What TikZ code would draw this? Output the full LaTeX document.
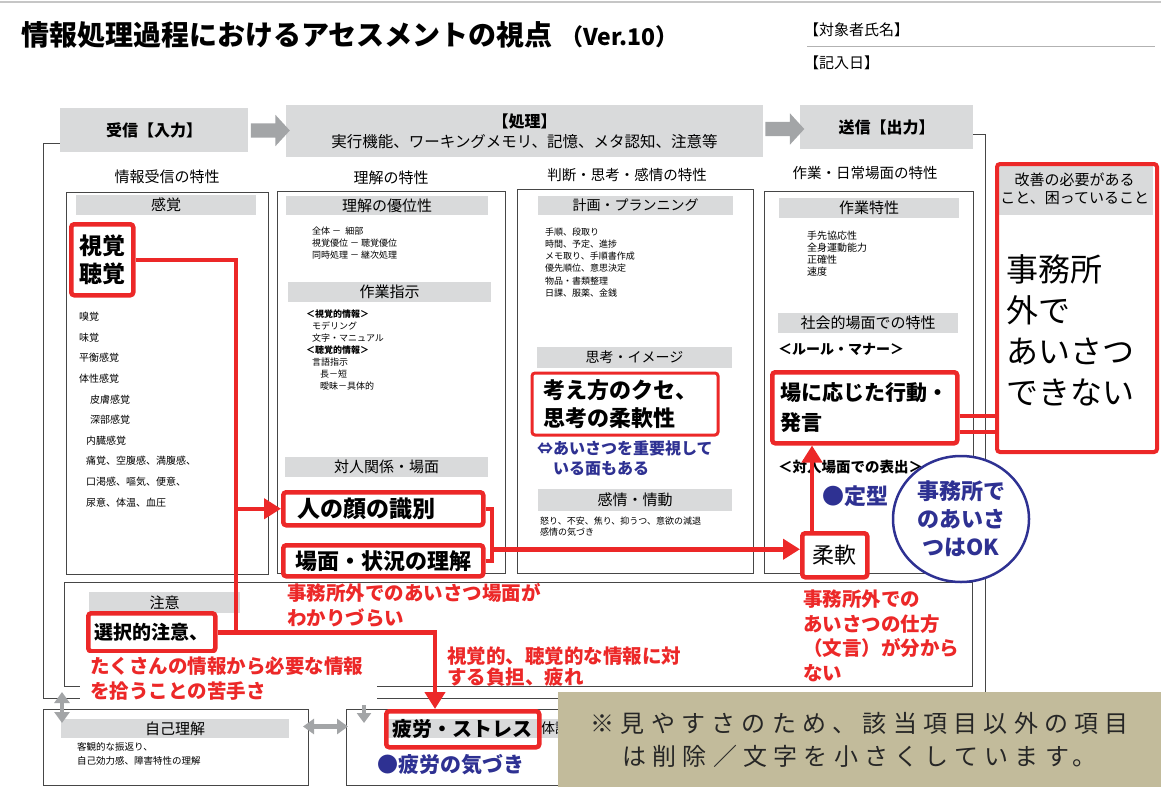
\documentclass[tikz,border=0pt]{standalone}
\usepackage{fontspec}
\setmainfont{Noto Sans CJK JP}
\usetikzlibrary{positioning, calc, arrows.meta, shapes.geometric, shapes.arrows}

\definecolor{alertred}{RGB}{236,40,40}
\definecolor{navyink}{RGB}{46,49,146}
\definecolor{bargray}{RGB}{217,218,219}
\definecolor{arrowgray}{RGB}{163,165,167}
\definecolor{framegray}{RGB}{70,70,70}
\definecolor{memobeige}{RGB}{194,187,155}

\tikzset{
  frameline/.style={draw=framegray, line width=1pt},
  panel/.style={draw=framegray, line width=1pt, anchor=north west, inner sep=0pt},
  headbox/.style={
    fill=bargray, align=center, inner sep=0pt,
    font=\bfseries\fontsize{16}{20}\selectfont
  },
  flow/.style={
    single arrow, fill=arrowgray, inner xsep=0pt, inner ysep=7pt,
    minimum height=39pt, single arrow head extend=8.5pt, single arrow tip angle=95
  },
  bar/.style={fill=bargray, inner sep=0pt, minimum height=20pt, font=\fontsize{15}{18}\selectfont},
  small/.style={anchor=north west, align=left, inner sep=0pt, font=\fontsize{9}{12}\selectfont},
  redbox/.style={
    draw=alertred, line width=4.5pt, rounded corners=3pt, fill=white,
    anchor=north west, align=left, inner ysep=0pt,
    font=\bfseries\fontsize{23}{28}\selectfont
  },
  redline/.style={draw=alertred, line width=4.5pt},
  headtip/.style={-{Triangle[length=17pt,width=20pt]}},
  note/.style={
    text=alertred, anchor=north west, align=left, inner sep=0pt,
    font=\bfseries\fontsize{19.5}{24.5}\selectfont
  },
  remark/.style={
    text=navyink, anchor=north west, align=left, inner sep=0pt,
    font=\bfseries\fontsize{16}{20}\selectfont
  },
  label/.style={anchor=west, inner sep=0pt, font=\bfseries\fontsize{14}{17}\selectfont},
  link/.style={draw=arrowgray, line width=4.5pt, {Triangle[length=11pt,width=15pt]}-{Triangle[length=11pt,width=15pt]}}
}

\begin{document}
\begin{tikzpicture}[x=1pt, y=-1pt]
  \useasboundingbox (0,0) rectangle (1161,787);
  \draw[gray!45, line width=1.5pt] (0,2) -- (1161,2);

  % title and form fields
  \node[anchor=west, inner sep=0pt, font=\bfseries\fontsize{28}{30}\selectfont] (title) at (21,35) {情報処理過程におけるアセスメントの視点\hspace{8pt}{\fontsize{23}{26}\selectfont （Ver.10）}};
  \node[anchor=west, inner sep=0pt, font=\fontsize{15}{18}\selectfont] (client) at (804,30) {【対象者氏名】};
  \node[anchor=west, inner sep=0pt, font=\fontsize{15}{18}\selectfont] (date) at (804,63) {【記入日】};
  \draw[gray!60, line width=1pt] (807,46) -- (1155,46);

  \draw[frameline] (60,143) -- (43,143) -- (43,698) -- (985,698) -- (985,134) -- (973,134);

  % input -> processing -> output
  \node[headbox, minimum width=188pt, minimum height=44pt] (recv) at (154,130) {受信【入力】};
  \node[headbox, minimum width=477pt, minimum height=52pt] (proc) at (524.5,131) {【処理】\\{\mdseries\fontsize{15.5}{19}\selectfont 実行機能、ワーキングメモリ、記憶、メタ認知、注意等}};
  \node[headbox, minimum width=173pt, minimum height=44pt] (send) at (886.5,127) {送信【出力】};
  \node[flow] (flow1) at ($(recv.east)!0.5!(proc.west)$) {};
  \node[flow] (flow2) at ($(proc.east)!0.5!(send.west)$) {};

  \node[font=\fontsize{15}{18}\selectfont] (recvlbl) at (167,177) {情報受信の特性};
  \node[font=\fontsize{15}{18}\selectfont] (undlbl) at (391,178) {理解の特性};
  \node[font=\fontsize{14.5}{18}\selectfont] (judglbl) at (627,175) {判断・思考・感情の特性};
  \node[font=\fontsize{14.5}{18}\selectfont] (actlbl) at (865,173) {作業・日常場面の特性};

  \node[panel, minimum width=202pt, minimum height=382pt] (col1) at (66,192) {};
  \node[panel, minimum width=228pt, minimum height=382pt] (col2) at (277,191) {};
  \node[panel, minimum width=236pt, minimum height=384pt] (col3) at (517,189) {};
  \node[panel, minimum width=209pt, minimum height=382pt] (col4) at (764,191) {};

  \node[bar, minimum width=180pt] (sense) at (166,205) {感覚};
  \node[bar, minimum width=202pt, minimum height=19pt] (pref) at (387,205.5) {理解の優位性};
  \node[bar, minimum width=203pt] (instr) at (389.5,292) {作業指示};
  \node[bar, minimum width=203pt] (relat) at (386.5,467) {対人関係・場面};
  \node[bar, minimum width=195pt, minimum height=19pt, font=\fontsize{14}{18}\selectfont] (plan) at (635.5,205.5) {計画・プランニング};
  \node[bar, minimum width=195pt, minimum height=21pt, font=\fontsize{14}{18}\selectfont] (think) at (634.5,357.5) {思考・イメージ};
  \node[bar, minimum width=194pt, minimum height=22pt] (emo) at (635,500) {感情・情動};
  \node[bar, minimum width=180pt] (work) at (869,208) {作業特性};
  \node[bar, minimum width=180pt] (social) at (868,323) {社会的場面での特性};

  \node[small, font=\fontsize{10}{20.6}\selectfont] (senselist) at (79,312) {嗅覚\\味覚\\平衡感覚\\体性感覚\\\hspace*{11pt}皮膚感覚\\\hspace*{11pt}深部感覚\\\hspace*{7pt}内臓感覚\\\hspace*{7pt}痛覚、空腹感、満腹感、\\\hspace*{7pt}口渇感、嘔気、便意、\\\hspace*{7pt}尿意、体温、血圧};
  \node[small] (preflist) at (312,226.5) {全体 － \ 細部\\視覚優位 － 聴覚優位\\同時処理 － 継次処理};
  \node[small] (instrlist) at (306,309.5) {\textbf{＜視覚的情報＞}\\\hspace*{6pt}モデリング\\\hspace*{6pt}文字・マニュアル\\\textbf{＜聴覚的情報＞}\\\hspace*{6pt}言語指示\\\hspace*{14pt}長－短\\\hspace*{14pt}曖昧－具体的};
  \node[small, font=\fontsize{9}{12.2}\selectfont] (planlist) at (545,227.5) {手順、段取り\\時間、予定、進捗\\メモ取り、手順書作成\\優先順位、意思決定\\物品・書類整理\\日課、服薬、金銭};
  \node[small, font=\fontsize{9}{11.5}\selectfont] (emolist) at (540,516.5) {怒り、不安、焦り、抑うつ、意欲の減退\\感情の気づき};
  \node[small, font=\fontsize{10}{12}\selectfont] (worklist) at (807,231) {手先協応性\\全身運動能力\\正確性\\速度};

  \node[label] (rules) at (778,349) {＜ルール・マナー＞};
  \node[label, font=\bfseries\fontsize{14.5}{17}\selectfont] (meeting) at (778,467) {＜対人場面での表出＞};
  \node[remark, font=\bfseries\fontsize{22}{26}\selectfont] (fixed) at (822,486) {●定型};
  \node[remark] (respect) at (537,441) {⇔あいさつを重要視して\\\hspace*{1em}いる面もある};

  % attention and lower boxes
  \node[panel, minimum width=908pt, minimum height=104pt] (attnbox) at (64,582) {};
  \node[bar, minimum width=151pt, minimum height=21pt] (attn) at (164.5,602.5) {注意};
  \node[panel, minimum width=265pt, minimum height=76pt] (selfbox) at (43,709) {};
  \node[bar, minimum width=228pt, minimum height=19pt] (selfbar) at (175,728.5) {自己理解};
  \node[small, font=\fontsize{9.5}{14.5}\selectfont] (selflist) at (77,742) {客観的な振返り、\\自己効力感、障害特性の理解};
  \node[panel, minimum width=354pt, minimum height=76pt] (condbox) at (346,709) {};
  \node[bar, anchor=west, minimum width=314pt, minimum height=19pt] (condbar) at (386,728.5) {};
  \node[anchor=west, inner sep=0pt, font=\fontsize{14}{17}\selectfont] (cond) at (541,728.5) {体調};

  % red connectors
  \coordinate (trunk) at (236,0);
  \coordinate (bend) at (492,0);
  \coordinate (drop) at (435,0);
  \coordinate (rise) at (812,0);

  \node[redbox, text width=46pt, inner xsep=8pt, minimum height=71pt] (sight) at (69,222) {視覚\\聴覚};
  \node[redbox, text width=172pt, inner xsep=14pt, minimum height=33pt] (face) at (281,490) {人の顔の識別};
  \node[redbox, text width=176pt, inner xsep=12pt, minimum height=31pt, font=\bfseries\fontsize{22}{28}\selectfont] (scene) at (281,543) {場面・状況の理解};
  \node[redbox, line width=3pt, text width=163pt, inner xsep=11.5pt, minimum height=62pt, font=\bfseries\fontsize{22}{28}\selectfont] (habit) at (530.5,371.5) {考え方のクセ、\\思考の柔軟性};
  \node[redbox, text width=169pt, inner xsep=8pt, minimum height=71pt, font=\bfseries\fontsize{21}{30}\selectfont] (behave) at (770,370) {場に応じた行動・\\発言};
  \node[redbox, align=center, text width=44pt, inner xsep=10.5pt, minimum height=44pt, font=\fontsize{22}{26}\selectfont] (flex) at (800,531) {柔軟};
  \node[redbox, text width=115pt, inner xsep=6pt, minimum height=38pt, font=\bfseries\fontsize{19}{24}\selectfont] (select) at (86,611) {選択的注意、};
  \node[redbox, fill=none, text width=140pt, inner xsep=6.5pt, minimum height=36pt, font=\bfseries\fontsize{20}{24}\selectfont] (fatigue) at (384,709) {疲労・ストレス};

  \coordinate (flexin) at ($(flex.west)+(0,-6)$);
  \coordinate (tie1) at ($(behave.east)+(0,8.5)$);
  \coordinate (tie2) at ($(behave.east)+(0,24.5)$);

  \draw[redline] (sight.east) -| (trunk |- select.east);
  \draw[redline, headtip] (trunk |- face.west) -- (face.west);
  \draw[redline, headtip] (select.east) -| (drop |- fatigue.north);
  \draw[redline] (face.east) -| (bend |- scene.east) -- (scene.east);
  \draw[redline, headtip] (bend |- flexin) -- (flexin);
  \draw[redline, headtip] (rise |- flex.north) -- (rise |- behave.south);

  % needs box
  \node[fill=bargray, anchor=north west, minimum width=157pt, minimum height=52pt, inner sep=0pt, align=center, font=\fontsize{15}{18}\selectfont] (needhead) at (996,163) {改善の必要がある\\こと、困っていること};
  \node[redbox, fill=none, line width=4pt, minimum width=160pt, minimum height=288pt] (need) at (995,162) {};
  \node[anchor=north west, inner sep=0pt, align=left, font=\fontsize{32}{41}\selectfont] (needtext) at (1006,254) {事務所\\外で\\あいさつ\\できない};
  \draw[redline, line width=4pt] (tie1) -- (tie1 -| need.west);
  \draw[redline, line width=4pt] (tie2) -- (tie2 -| need.west);

  % notes
  \node[note] (scenenote) at (287,583.5) {事務所外でのあいさつ場面が\\わかりづらい};
  \node[note, fill=white, inner xsep=10pt, inner ysep=4pt, text width=277pt] (picknote) at (80,653) {たくさんの情報から必要な情報\\を拾うことの苦手さ};
  \node[note, font=\bfseries\fontsize{19.5}{20.5}\selectfont] (loadnote) at (447,647) {視覚的、聴覚的な情報に対\\する負担、疲れ};
  \node[note] (waynote) at (803,590) {事務所外での\\あいさつの仕方\\（文言）が分から\\ない};
  \node[remark, font=\bfseries\fontsize{21}{24}\selectfont] (aware) at (377,754.5) {●疲労の気づき};

  \node[ellipse, draw=navyink, line width=2.5pt, fill=white, minimum width=136pt, minimum height=126pt, inner sep=0pt, align=center, text=navyink, font=\bfseries\fontsize{22}{28}\selectfont] (okmark) at (961,519) {事務所で\\のあいさ\\つはOK};

  % gray links
  \coordinate (up1) at (62,692);
  \coordinate (dn) at (364,705);
  \draw[link] (up1) -- ++(0,31);
  \draw[link] ($(selfbar -| selfbox.east)+(-6,-2)$) -- ($(selfbar -| condbox.west)+(2,-2)$);
  \draw[draw=arrowgray, line width=4.5pt, -{Triangle[length=10pt,width=14pt]}] (dn) -- ++(0,18);

  \node[fill=memobeige, anchor=north west, minimum width=603pt, minimum height=95pt, align=center, text=black!85, font=\fontsize{24}{33}\selectfont\addfontfeature{LetterSpace=26}] (memo) at (558,692) {※見やすさのため、該当項目以外の項目\\は削除／文字を小さくしています。};
\end{tikzpicture}
\end{document}
